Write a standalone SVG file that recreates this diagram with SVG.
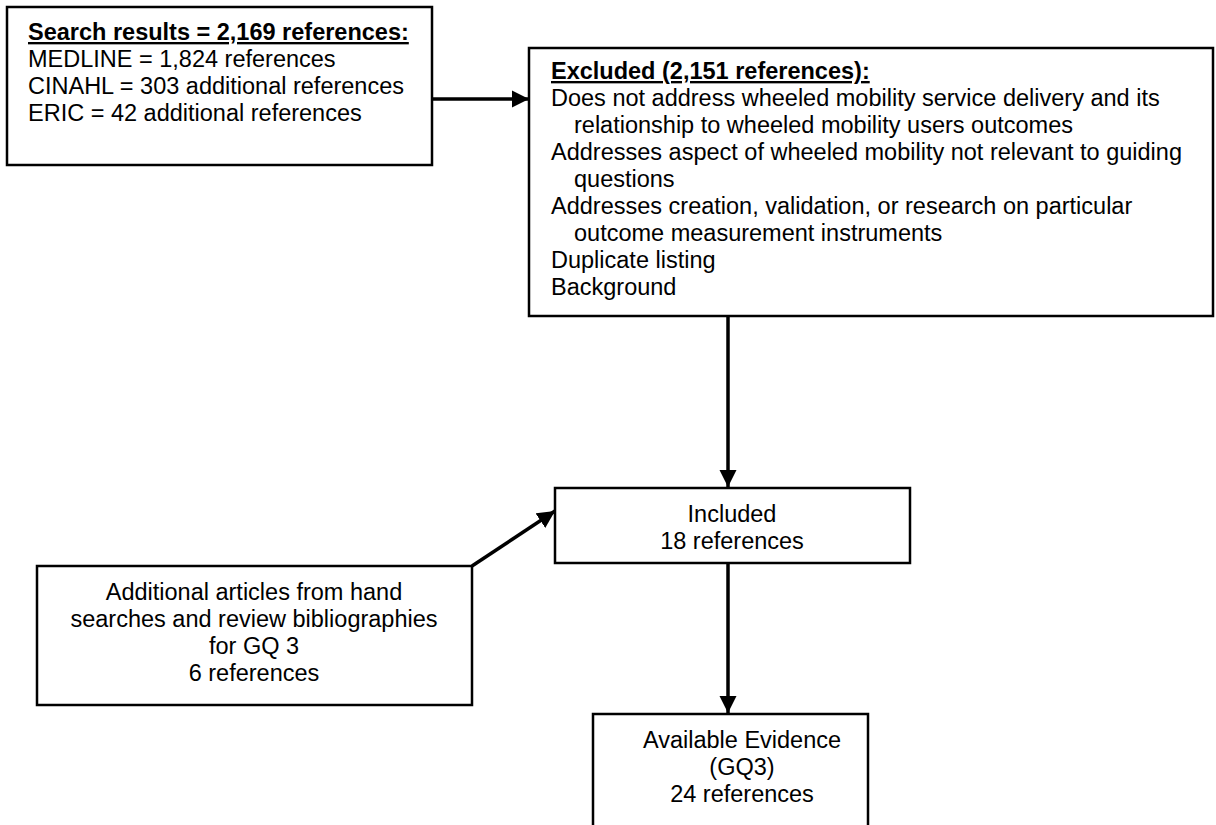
<svg xmlns="http://www.w3.org/2000/svg" width="1216" height="825" viewBox="0 0 1216 825">
<style>
.box{fill:#fff;stroke:#000;stroke-width:2.5}
text{font-family:"Liberation Sans",Arial,sans-serif;font-size:23.5px;fill:#000}
.t{font-weight:bold;text-decoration:underline}
.c{text-anchor:middle}
.conn{stroke:#000;stroke-width:3.5;fill:none}
</style>
<defs>
<marker id="ah" viewBox="0 0 10 10" refX="10" refY="5" markerWidth="5" markerHeight="5" markerUnits="strokeWidth" orient="auto">
<path d="M0,0 L10,5 L0,10 z" fill="#000"/>
</marker>
</defs>
<rect width="1216" height="825" fill="#fff"/>
<g id="connectors">
<line class="conn" x1="433" y1="99" x2="529" y2="99" marker-end="url(#ah)"/>
<line class="conn" x1="728" y1="317" x2="728" y2="487" marker-end="url(#ah)"/>
<line class="conn" x1="472" y1="566" x2="555" y2="511" marker-end="url(#ah)"/>
<line class="conn" x1="728" y1="564" x2="728" y2="713" marker-end="url(#ah)"/>
</g>
<g id="search">
<rect class="box" x="7" y="7" width="425" height="158"/>
<text x="28" y="40" class="t">Search results = 2,169 references:</text>
<text x="28" y="67">MEDLINE = 1,824 references</text>
<text x="28" y="94">CINAHL = 303 additional references</text>
<text x="28" y="121">ERIC = 42 additional references</text>
</g>
<g id="excluded">
<rect class="box" x="529" y="48" width="684" height="268"/>
<text x="551" y="79" class="t">Excluded (2,151 references):</text>
<text x="551" y="106">Does not address wheeled mobility service delivery and its</text>
<text x="574" y="133">relationship to wheeled mobility users outcomes</text>
<text x="551" y="160">Addresses aspect of wheeled mobility not relevant to guiding</text>
<text x="574" y="187">questions</text>
<text x="551" y="214">Addresses creation, validation, or research on particular</text>
<text x="574" y="241">outcome measurement instruments</text>
<text x="551" y="268">Duplicate listing</text>
<text x="551" y="295">Background</text>
</g>
<g id="included">
<rect class="box" x="555" y="488" width="355" height="75"/>
<text x="732" y="522" class="c">Included</text>
<text x="732" y="549" class="c">18 references</text>
</g>
<g id="additional">
<rect class="box" x="37" y="566" width="435" height="139"/>
<text x="254" y="600" class="c">Additional articles from hand</text>
<text x="254" y="627" class="c">searches and review bibliographies</text>
<text x="254" y="654" class="c">for GQ 3</text>
<text x="254" y="681" class="c">6 references</text>
</g>
<g id="available">
<rect class="box" x="593" y="714" width="275" height="130"/>
<text x="742" y="748" class="c">Available Evidence</text>
<text x="742" y="775" class="c">(GQ3)</text>
<text x="742" y="802" class="c">24 references</text>
</g>
</svg>
